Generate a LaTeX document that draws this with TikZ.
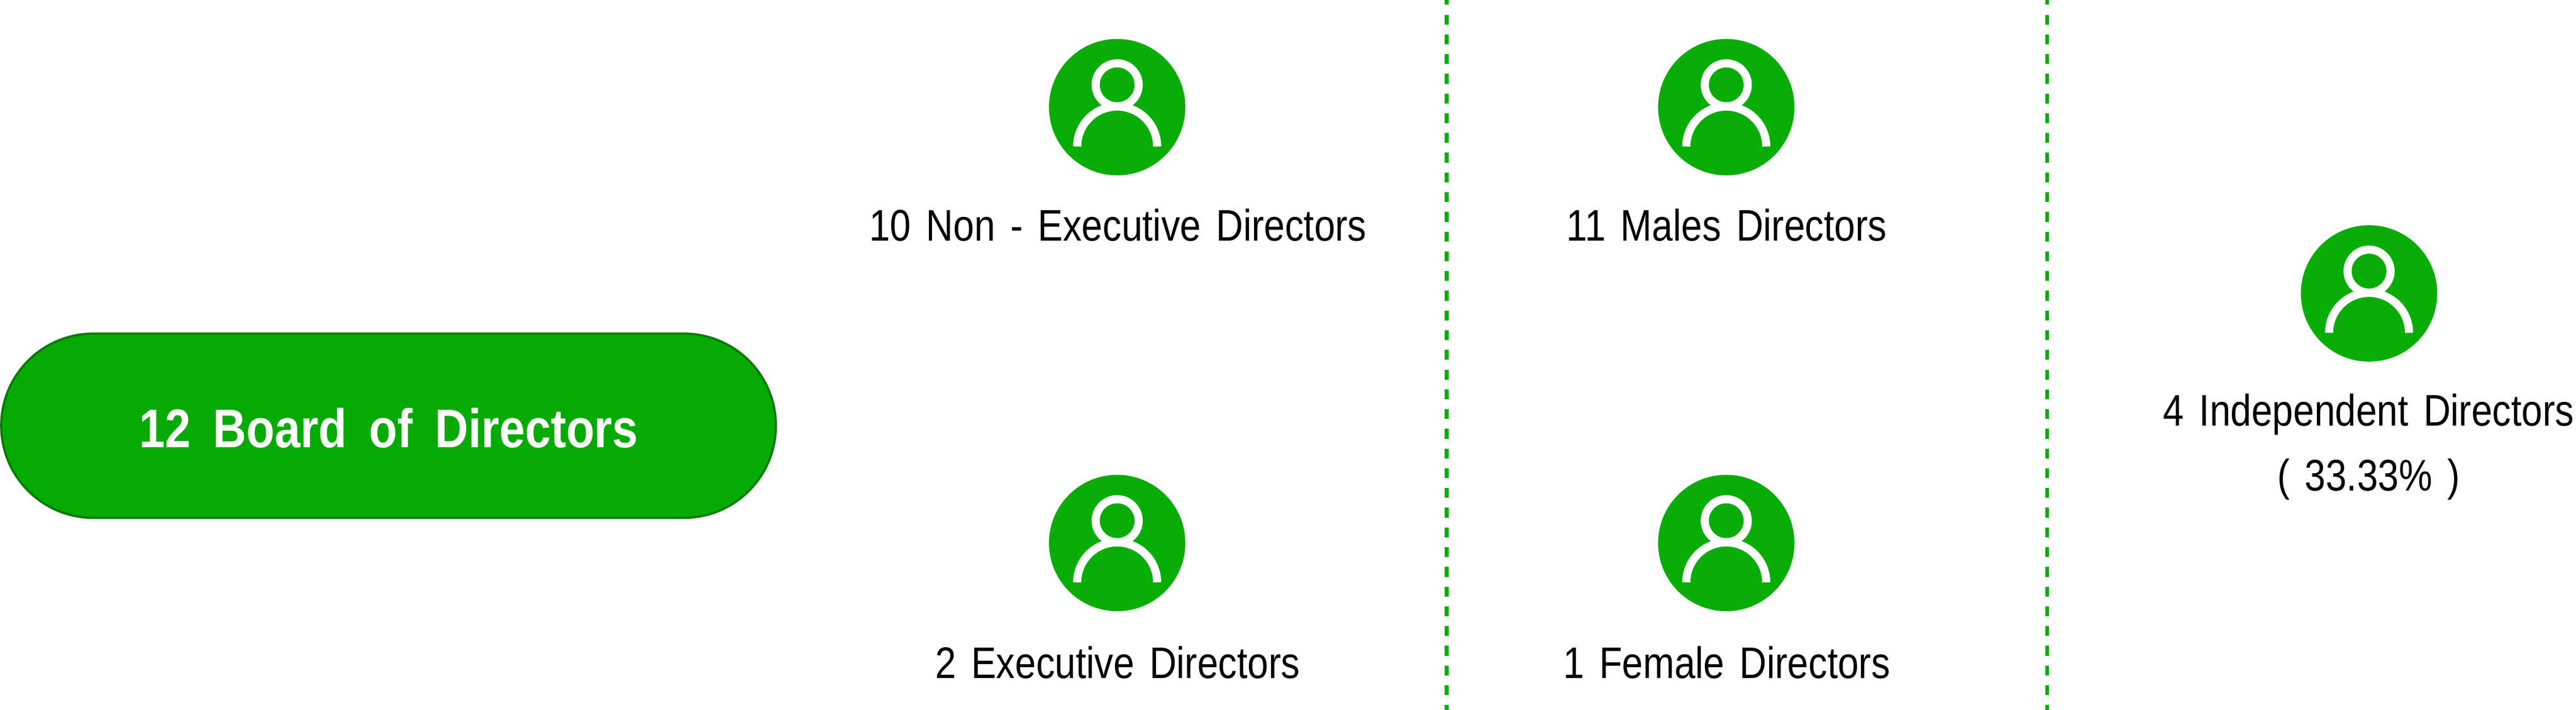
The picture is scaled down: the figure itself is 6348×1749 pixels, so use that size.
\documentclass[tikz,border=0pt]{standalone}
\usepackage{fontspec}
\setmainfont[FakeStretch=0.85,WordSpace=1.45]{Liberation Sans}
\newfontfamily\boldlabel[FakeStretch=0.85,WordSpace=1.75]{Liberation Sans Bold}
\definecolor{brandgreen}{HTML}{08AD05}
\definecolor{pillgreen}{HTML}{05AB02}
\definecolor{pilledge}{HTML}{087A05}
\tikzset{
  x=0.1pt,y=-0.1pt,
  pill/.style={draw=pilledge,fill=pillgreen,line width=0.55pt},
  disc/.style={circle,fill=brandgreen,minimum size=33.6pt,inner sep=0pt},
  label/.style={font=\fontsize{10.9}{16}\selectfont,text=black,align=center,inner sep=0pt,anchor=base},
  pilllabel/.style={font=\boldlabel\fontsize{13.4}{16}\selectfont,text=white,inner sep=0pt,anchor=base},
  divider/.style={draw=brandgreen,line width=0.9pt,dash pattern=on 2.44pt off 2.42pt,dash phase=1.24pt},
}
\newcommand{\personicon}[3]{%
  \node[disc] (#1) at (#2,#3) {};
  \draw[white,line width=2pt] (#2,#3-55) circle[radius=5.3pt];
  \draw[white,line width=2pt] (#2-98.5,#3+97) arc[start angle=180,end angle=0,radius=9.85pt];
}
\begin{document}
\begin{tikzpicture}
\useasboundingbox (0,0) rectangle (6348,1749);
\draw[pill] (230,822) -- (1685,822) arc[start angle=90,end angle=-90,radius=22.7pt] -- (230,1276) arc[start angle=270,end angle=90,radius=22.7pt] -- cycle;
\node[pilllabel] (board) at (958,1102) {12 Board of Directors};
\coordinate (d1a) at (3565,0); \coordinate (d1b) at (3565,1749);
\coordinate (d2a) at (5045,0); \coordinate (d2b) at (5045,1749);
\draw[divider] (d1a) -- (d1b);
\draw[divider] (d2a) -- (d2b);
\personicon{p1}{2753}{264}
\personicon{p2}{4254}{264}
\personicon{p3}{2753}{1338}
\personicon{p4}{4254}{1338}
\personicon{p5}{5838}{723}
\node[label] (t1) at (2755,594) {10 Non - Executive Directors};
\node[label] (t2) at (4255,594) {11 Males Directors};
\node[label] (t3) at (2754,1671) {2 Executive Directors};
\node[label] (t4) at (4255,1671) {1 Female Directors};
\node[label] (t5) at (5837,1209) {4 Independent Directors\\( 33.33\% )};
\end{tikzpicture}
\end{document}
